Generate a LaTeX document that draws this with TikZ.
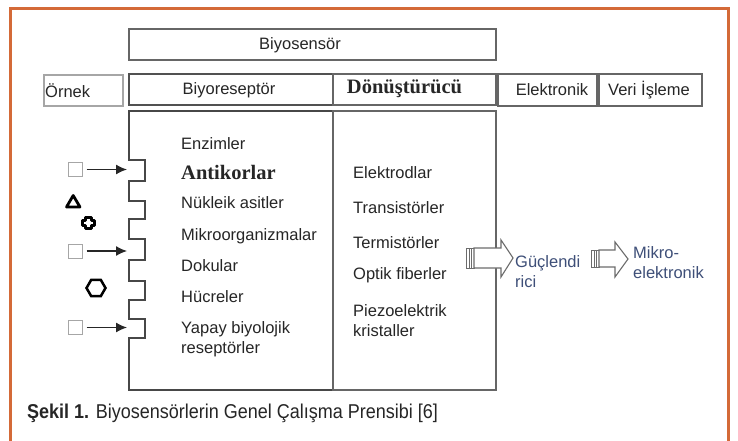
\documentclass[tikz,border=0pt]{standalone}
\usepackage{fontspec}
\setmainfont{Liberation Sans}
\newfontfamily\serifb{Liberation Serif}
\usetikzlibrary{shapes.geometric,arrows.meta}
\definecolor{frameor}{HTML}{D46A38}
\definecolor{txt}{HTML}{262626}
\definecolor{boxln}{HTML}{666666}
\definecolor{bluetxt}{HTML}{3E4F78}
\tikzset{
  lbl/.style={font=\fontsize{16.5}{20}\selectfont, text=txt, inner sep=0pt, anchor=west, align=left},
  serlbl/.style={font=\serifb\bfseries\fontsize{20.5}{22}\selectfont, text=black!85, inner sep=0pt},
  hbox/.style={draw=boxln, line width=1.3pt},
  sqr/.style={draw=gray!70, line width=1pt, minimum size=14pt, inner sep=0pt},
  inarrow/.style={draw=txt, line width=1.3pt, -{Latex[length=11pt,width=10pt]}, shorten <=4pt},
  blockarrow/.style={draw=gray!85!black, line width=1.1pt, fill=white},
  stripe/.style={draw=gray!85!black, line width=0.8pt, fill=white},
}
\begin{document}
\begin{tikzpicture}[x=1pt,y=-1pt]
\useasboundingbox (0,0) rectangle (738,441);
\fill[white] (0,0) rectangle (738,441);
% orange frame
\draw[frameor, line width=3pt] (10.5,450) -- (10.5,8.5) -- (728.5,8.5) -- (728.5,450);
% header boxes
\draw[hbox, draw=gray!80!black] (129,29) rectangle (496,60);
\node[lbl, anchor=center] (biyosensor) at (300,45) {Biyosensör};
\draw[hbox, draw=gray!70] (44,75) rectangle (123,106);
\node[lbl] (ornek) at (45,90.5) {Örnek};
\draw[draw=txt!80, line width=1.8pt] (129,74) rectangle (333,105);
\node[lbl, anchor=center] (biyores) at (229,90) {Biyoreseptör};
\draw[hbox] (333,74) rectangle (496,105);
\node[serlbl] (donus) at (404.5,89) {Dönüştürücü};
\draw[hbox] (498,74) rectangle (597,106);
\node[lbl, anchor=center] (elek) at (552,90) {Elektronik};
\draw[hbox] (599,74) rectangle (702,106);
\node[lbl, anchor=center] (veri) at (649,90) {Veri İşleme};
% lower boxes
\draw[draw=txt!85, line width=1.4pt]
  (333,111) -- (129,111) -- (129,160) -- (145,160) -- (145,181) -- (129,181)
  -- (129,201) -- (145,201) -- (145,219) -- (129,219)
  -- (129,239) -- (145,239) -- (145,260) -- (129,260)
  -- (129,281) -- (145,281) -- (145,300) -- (129,300)
  -- (129,319) -- (145,319) -- (145,338) -- (129,338)
  -- (129,390) -- (333,390) -- cycle;
\draw[draw=gray!80!black, line width=1.4pt] (333,111) rectangle (496,390);
% notch coordinates
\coordinate (n1) at (127,169.5);
\coordinate (n3) at (127,251);
\coordinate (n5) at (127,327.5);
% bioreceptor labels
\node[lbl] (enz) at (181,144) {Enzimler};
\node[serlbl, anchor=west] (anti) at (181,172) {Antikorlar};
\node[lbl] (nuk) at (181,203) {Nükleik asitler};
\node[lbl] (mik) at (181,236) {Mikroorganizmalar};
\node[lbl] (dok) at (181,266) {Dokular};
\node[lbl] (huc) at (181,297) {Hücreler};
\node[lbl] (yap) at (181,339) {Yapay biyolojik\\reseptörler};
% transducer labels
\node[lbl] (elt) at (353,173) {Elektrodlar};
\node[lbl] (tra) at (353,208) {Transistörler};
\node[lbl] (ter) at (353,243) {Termistörler};
\node[lbl] (opt) at (353,275) {Optik fiberler};
\node[lbl] (pie) at (353,321) {Piezoelektrik\\kristaller};
% sample symbols
\node[sqr] (s1) at (75,169.5) {};
\node[sqr] (s2) at (75,251) {};
\node[sqr] (s3) at (75,327.5) {};
\draw[inarrow] (s1.east) -- (n1);
\draw[inarrow] (s2.east) -- (n3);
\draw[inarrow] (s3.east) -- (n5);
\draw[line width=2.8pt, line join=round] (66.5,207) -- (80,207) -- (73.2,195.5) -- cycle;
\draw[line width=3pt, line join=round, shift={(88.5,223)}]
  (-2.9,-5.8) -- (2.9,-5.8) -- (2.9,-2.9) -- (5.8,-2.9) -- (5.8,2.9) -- (2.9,2.9)
  -- (2.9,5.8) -- (-2.9,5.8) -- (-2.9,2.9) -- (-5.8,2.9) -- (-5.8,-2.9) -- (-2.9,-2.9) -- cycle;
\node[regular polygon, regular polygon sides=6, draw=black, line width=2.5pt,
      minimum size=19pt, inner sep=0pt] (hex) at (96,288) {};
% block arrows
\draw[stripe] (466.5,248) rectangle (469,268);
\draw[stripe] (469,248) rectangle (471.5,268);
\draw[stripe] (471.5,248) rectangle (474,268);
\draw[blockarrow] (474,248) -- (501,248) -- (501,240) -- (513,258) -- (501,277)
  -- (501,268) -- (474,268) -- cycle;
\node[lbl, text=bluetxt] (guc) at (515,272) {Güçlendi\\rici};
\draw[stripe] (591.5,250) rectangle (594,267);
\draw[stripe] (594,250) rectangle (596.5,267);
\draw[stripe] (596.5,250) rectangle (599,267);
\draw[blockarrow] (599,250) -- (615,250) -- (615,242) -- (628,259) -- (615,277)
  -- (615,267) -- (599,267) -- cycle;
\node[lbl, text=bluetxt] (mikro) at (633,263) {Mikro-\\elektronik};
% caption
\node[anchor=west, inner sep=0pt, text=txt, font=\fontsize{20}{22}\selectfont] (cap) at (27,413)
  {\scalebox{0.9}[1]{\textbf{Şekil 1.} Biyosensörlerin Genel Çalışma Prensibi [6]}};
\end{tikzpicture}
\end{document}
